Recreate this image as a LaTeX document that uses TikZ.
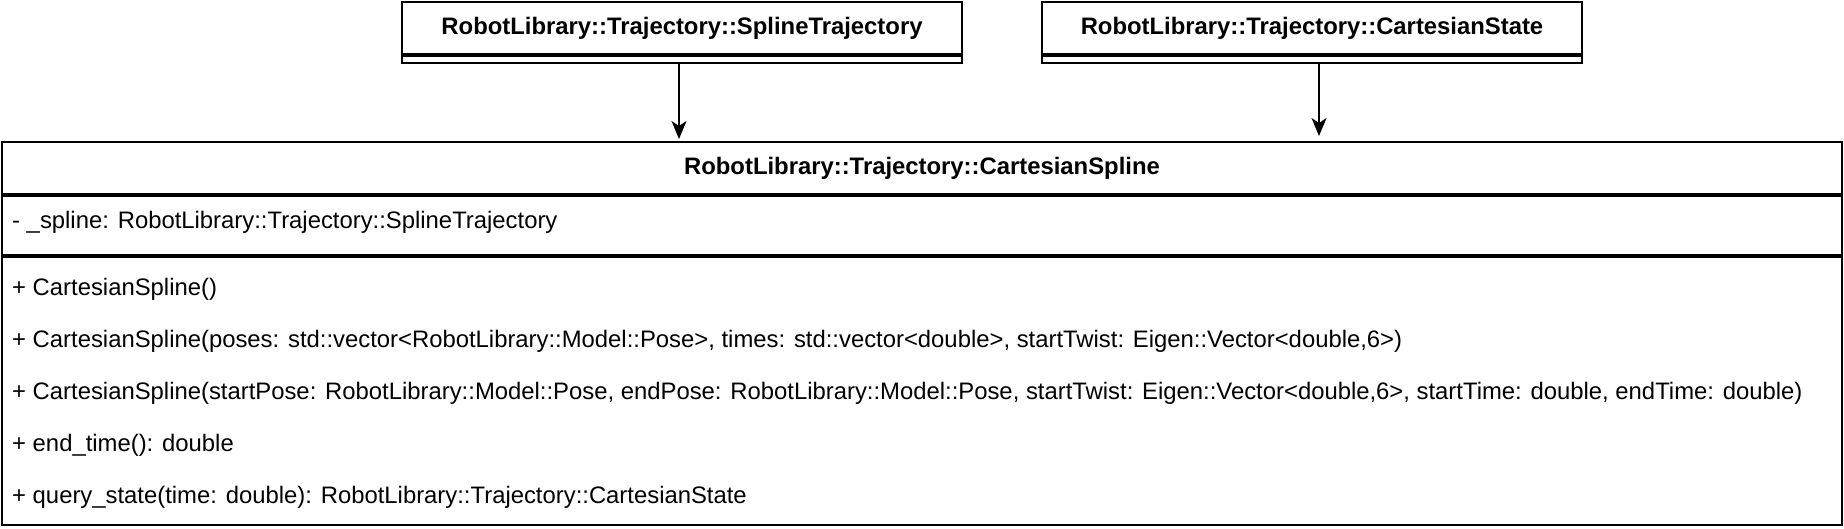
\documentclass[tikz,border=0pt]{standalone}
\usepackage{fontspec}
\setmainfont{Liberation Sans}
\usetikzlibrary{arrows.meta}

\begin{document}
\begin{tikzpicture}[x=1pt, y=-1pt]
\tikzset{classpart/.style={draw, line width=2pt, inner sep=0pt, anchor=north west}}
\tikzset{member/.style={anchor=west, inner sep=0pt}}
\tikzset{dep/.style={line width=1.4pt, -{Stealth[length=18pt, width=15pt, inset=5pt]}}}
\useasboundingbox (0,0) rectangle (1844,528);
\fontsize{23.85}{28}\selectfont

% used classes
\node[classpart, minimum width=560pt, minimum height=52pt] (splinetraj) at (401,1) {\textbf{RobotLibrary::Trajectory::SplineTrajectory}};
\node[classpart, minimum width=560pt, minimum height=7pt] (splinetrajb) at (splinetraj.south west) {};
\node[classpart, minimum width=540pt, minimum height=52pt] (cartstate) at (1041,1) {\textbf{RobotLibrary::Trajectory::CartesianState}};
\node[classpart, minimum width=540pt, minimum height=7pt] (cartstateb) at (cartstate.south west) {};

% main class
\node[classpart, minimum width=1840pt, minimum height=52pt] (cspline) at (1,141) {\textbf{RobotLibrary::Trajectory::CartesianSpline}};
\node[classpart, minimum width=1840pt, minimum height=59pt] (csattr) at (cspline.south west) {};
\node[classpart, minimum width=1840pt, minimum height=268pt] (csmeth) at (csattr.south west) {};

\node[member] (attr1) at (12,222) {- \_spline: RobotLibrary::Trajectory::SplineTrajectory};
\node[member] (meth1) at (12,289) {+ CartesianSpline()};
\node[member] (meth2) at (12,341) {+ CartesianSpline(poses: std::vector<RobotLibrary::Model::Pose>, times: std::vector<double>, startTwist: Eigen::Vector<double,6>)};
\node[member] (meth3) at (12,393) {+ CartesianSpline(startPose: RobotLibrary::Model::Pose, endPose: RobotLibrary::Model::Pose, startTwist: Eigen::Vector<double,6>, startTime: double, endTime: double)};
\node[member] (meth4) at (12,445) {+ end\_time(): double};
\node[member] (meth5) at (12,497) {+ query\_state(time: double): RobotLibrary::Trajectory::CartesianState};

\draw[dep, shorten >=2pt] ([xshift=-3pt]splinetrajb.south) -- ([xshift=-3pt]splinetrajb.south |- cspline.north);
\draw[dep, shorten >=5pt] ([xshift=7pt]cartstateb.south) -- ([xshift=7pt]cartstateb.south |- cspline.north);
\end{tikzpicture}
\end{document}
